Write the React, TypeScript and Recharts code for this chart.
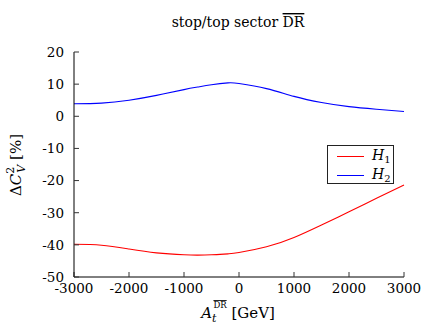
import React from "react";
import { LineChart, Line, XAxis, YAxis } from "recharts";

// A_t (GeV) sample points and the two curves
const aValues = [-3000, -2500, -2000, -1500, -1000, -750, -500, -200, 0, 500, 1000, 1500, 2000, 2500, 3000];
const h1Values = [-39.8, -40.1, -41.3, -42.5, -43.1, -43.2, -43.1, -42.8, -42.4, -40.6, -37.7, -33.8, -29.7, -25.5, -21.4];
const h2Values = [3.9, 4.1, 5.0, 6.5, 8.3, 9.1, 9.8, 10.4, 10.2, 8.6, 6.2, 4.3, 3.0, 2.2, 1.5];

const xTicks = [-3000, -2000, -1000, 0, 1000, 2000, 3000];
const yTicks = [-50, -40, -30, -20, -10, 0, 10, 20];

const series = [
  { key: "h1", sub: "1", color: "#ff0000" },
  { key: "h2", sub: "2", color: "#0000ff" },
];

const data = aValues.map((a, i) => ({ a, h1: h1Values[i], h2: h2Values[i] }));

const FONT = "DejaVu Serif";
const tickFont = { fontFamily: FONT, fontSize: 13.5, fill: "#000" };

export default function App() {
  return (
    <div style={{ position: "absolute", left: 0, top: 0, width: 436, height: 333, background: "#fff" }}>
      <LineChart width={436} height={333} data={data} margin={{ top: 52, right: 32, bottom: 0, left: 0 }}>
        <XAxis
          dataKey="a"
          type="number"
          domain={[-3000, 3000]}
          ticks={xTicks}
          height={56}
          tickSize={-5}
          tickMargin={11}
          tick={tickFont}
          axisLine={{ stroke: "#000" }}
          tickLine={{ stroke: "#333" }}
        />
        <XAxis
          xAxisId="top"
          orientation="top"
          type="number"
          domain={[-3000, 3000]}
          ticks={xTicks}
          height={0}
          tickSize={-5}
          tick={false}
          axisLine={{ stroke: "#888", strokeWidth: 1.5 }}
          tickLine={{ stroke: "#333" }}
        />
        <YAxis
          type="number"
          domain={[-50, 20]}
          ticks={yTicks}
          width={74}
          tickSize={-5}
          tickMargin={15}
          tick={tickFont}
          axisLine={{ stroke: "#000" }}
          tickLine={{ stroke: "#333" }}
        />
        <YAxis
          yAxisId="right"
          orientation="right"
          type="number"
          domain={[-50, 20]}
          ticks={yTicks}
          width={0}
          tickSize={-5}
          tick={false}
          axisLine={{ stroke: "#888", strokeWidth: 1.5 }}
          tickLine={{ stroke: "#333" }}
        />
        {series.map((s) => (
          <Line
            key={s.key}
            type="natural"
            dataKey={s.key}
            stroke={s.color}
            strokeWidth={1.1}
            dot={false}
            isAnimationActive={false}
          />
        ))}
      </LineChart>

      <svg
        width={436}
        height={333}
        style={{ position: "absolute", left: 0, top: 0, pointerEvents: "none", fontFamily: FONT }}
      >
        <text x={238} y={27} textAnchor="middle" fontSize={14}>
          stop/top sector <tspan style={{ textDecoration: "overline" }}>DR</tspan>
        </text>
        <text x={238} y={318} textAnchor="middle" fontSize={15}>
          <tspan fontStyle="italic">A</tspan>
          <tspan fontStyle="italic" fontSize={11} dy={4}>t</tspan>
          <tspan fontSize={8.5} dx={-3} dy={-14} style={{ textDecoration: "overline" }}>DR</tspan>
          <tspan dy={10}> [GeV]</tspan>
        </text>
        <text transform="translate(21,165) rotate(-90)" textAnchor="middle" fontSize={15}>
          Δ<tspan fontStyle="italic">C</tspan>
          <tspan fontSize={11} dy={-7}>2</tspan>
          <tspan fontStyle="italic" fontSize={11} dx={-6} dy={11}>V</tspan>
          <tspan dy={-4}> [%]</tspan>
        </text>
      </svg>

      <div
        style={{
          position: "absolute",
          left: 327,
          top: 145,
          width: 67,
          height: 39,
          border: "1px solid #222",
          background: "#fff",
          boxSizing: "border-box",
          fontFamily: FONT,
          fontSize: 14,
        }}
      >
        {series.map((s, i) => (
          <div key={s.key} style={{ position: "absolute", left: 9, top: 1 + i * 19, height: 18, display: "flex", alignItems: "center" }}>
            <span style={{ display: "inline-block", width: 27, height: 0, borderTop: `1px solid ${s.color}` }} />
            <span style={{ marginLeft: 8, fontStyle: "italic" }}>
              H<sub style={{ fontSize: 10, fontStyle: "normal", verticalAlign: -3 }}>{s.sub}</sub>
            </span>
          </div>
        ))}
      </div>
    </div>
  );
}
